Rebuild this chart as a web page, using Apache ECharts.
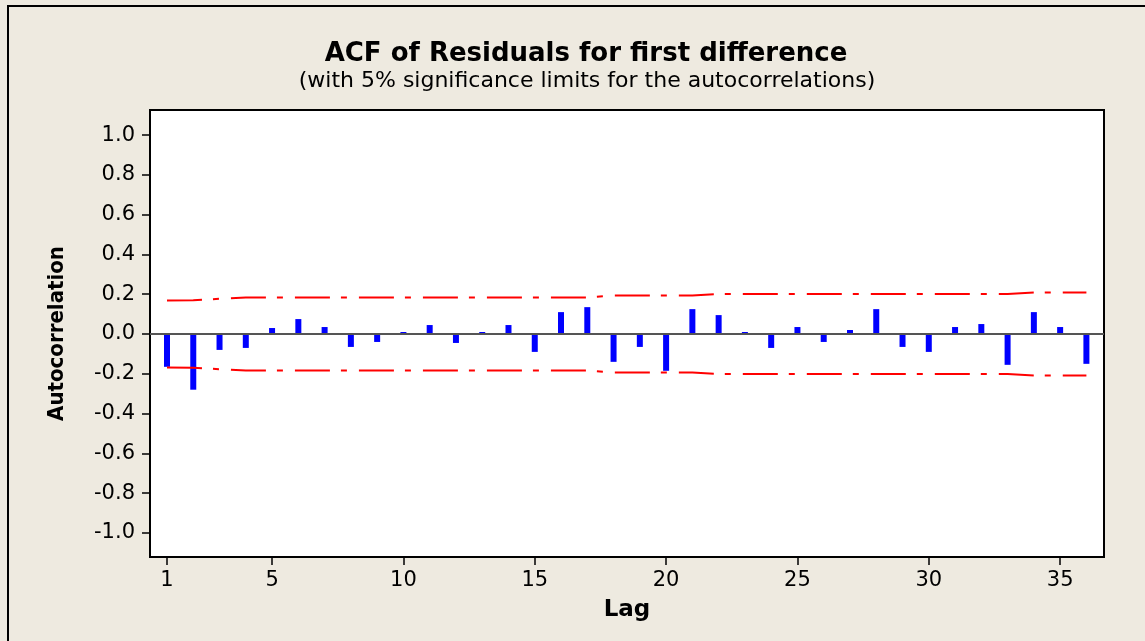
<!DOCTYPE html>
<html>
<head>
<meta charset="utf-8">
<script src="https://cdn.jsdelivr.net/npm/echarts@6/dist/echarts.min.js"></script>
<style>
  html, body { margin: 0; padding: 0; background: #EEEAE0; }
  #chart { width: 1145px; height: 641px; }
</style>
</head>
<body>
<div id="chart"></div>
<script>
// lags and sample autocorrelations of the residuals
const lags = [1, 2, 3, 4, 5, 6, 7, 8, 9, 10, 11, 12, 13, 14, 15, 16, 17, 18,
  19, 20, 21, 22, 23, 24, 25, 26, 27, 28, 29, 30, 31, 32, 33, 34, 35, 36]
const acf = [-0.165, -0.28, -0.08, -0.07, 0.03, 0.075, 0.035, -0.065, -0.04, 0.01, 0.045, -0.045,
  0.01, 0.045, -0.09, 0.11, 0.135, -0.14, -0.065, -0.185, 0.125, 0.095, 0.01, -0.07,
  0.035, -0.04, 0.02, 0.125, -0.065, -0.09, 0.035, 0.05, -0.155, 0.11, 0.035, -0.15]
// 5% significance limit (+/-) at each lag
const limits = [0.168, 0.170, 0.177, 0.184, 0.184, 0.184, 0.184, 0.184, 0.184, 0.184, 0.184, 0.184,
  0.184, 0.184, 0.184, 0.184, 0.184, 0.194, 0.194, 0.194, 0.194, 0.201, 0.201, 0.201,
  0.201, 0.201, 0.201, 0.201, 0.201, 0.201, 0.201, 0.201, 0.201, 0.209, 0.209, 0.209]
const xTicks = [1, 5, 10, 15, 20, 25, 30, 35]
const yTicks = [-1.0, -0.8, -0.6, -0.4, -0.2, 0.0, 0.2, 0.4, 0.6, 0.8, 1.0]

const chart = echarts.init(document.getElementById('chart'))
const font = 'DejaVu Sans'
const limitStyle = { color: '#FF0000', width: 2, type: [35, 11, 6, 12] }

chart.setOption({
  animation: false,
  backgroundColor: '#EEEAE0',
  textStyle: { fontFamily: font },
  title: [{
    text: 'ACF of Residuals for first difference',
    left: 581,
    top: 36,
    textAlign: 'center',
    textStyle: { fontFamily: font, fontSize: 26, fontWeight: 'bold', color: '#000' }
  }, {
    text: '(with 5% significance limits for the autocorrelations)',
    left: 582,
    top: 65,
    textAlign: 'center',
    textStyle: { fontFamily: font, fontSize: 22, fontWeight: 'normal', color: '#000' }
  }],
  graphic: [{
    type: 'rect',
    shape: { x: 8, y: 6, width: 1300, height: 800 },
    style: { fill: 'none', stroke: '#000', lineWidth: 2 },
    silent: true
  }],
  grid: {
    left: 150,
    right: 41,
    top: 110,
    bottom: 84,
    show: true,
    backgroundColor: '#fff',
    borderColor: '#000',
    borderWidth: 2
  },
  xAxis: {
    type: 'value',
    min: 0.353,
    max: 36.67,
    name: 'Lag',
    nameLocation: 'middle',
    nameGap: 42,
    nameTextStyle: { fontFamily: font, fontSize: 23, fontWeight: 'bold', color: '#000' },
    axisLine: { show: false, onZero: false },
    splitLine: { show: false },
    axisTick: { show: true, length: 8, customValues: xTicks, lineStyle: { color: '#000', width: 1.5 } },
    axisLabel: { customValues: xTicks, margin: 13, fontSize: 21, color: '#000' }
  },
  yAxis: {
    type: 'value',
    min: -1.121,
    max: 1.126,
    name: 'Autocorrelation',
    nameLocation: 'middle',
    nameRotate: 90,
    nameGap: 82,
    nameTextStyle: { fontFamily: "'DejaVu Sans Condensed', 'DejaVu Sans'", fontSize: 22, fontWeight: 'bold', color: '#000' },
    axisLine: { show: false, onZero: false },
    splitLine: { show: false },
    axisTick: { show: true, length: 8, customValues: yTicks, lineStyle: { color: '#000', width: 1.5 } },
    axisLabel: {
      customValues: yTicks,
      margin: 15,
      fontSize: 21,
      color: '#000',
      formatter: v => v.toFixed(1)
    }
  },
  series: [{
    name: 'ACF',
    type: 'bar',
    barWidth: 6,
    itemStyle: { color: '#0000FF' },
    data: lags.map((l, i) => [l, acf[i]]),
    markLine: {
      silent: true,
      symbol: 'none',
      label: { show: false },
      lineStyle: { color: '#555', width: 2, type: 'solid' },
      data: [{ yAxis: 0 }]
    }
  }, {
    name: 'Upper limit',
    type: 'line',
    symbol: 'none',
    lineStyle: limitStyle,
    data: lags.map((l, i) => [l, limits[i]])
  }, {
    name: 'Lower limit',
    type: 'line',
    symbol: 'none',
    lineStyle: limitStyle,
    data: lags.map((l, i) => [l, -limits[i]])
  }]
})
</script>
</body>
</html>
